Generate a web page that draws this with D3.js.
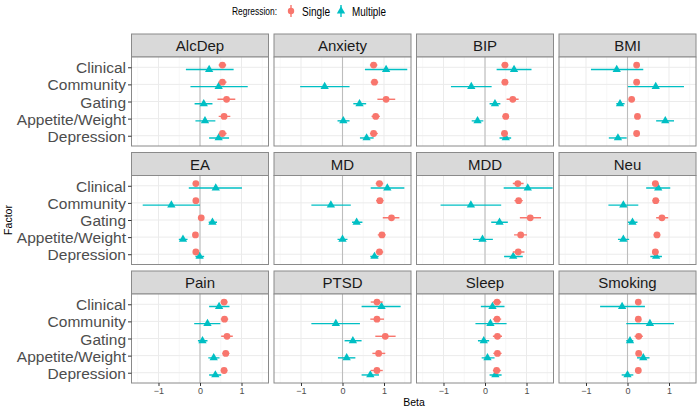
<!DOCTYPE html>
<html><head><meta charset="utf-8">
<script src="https://cdn.jsdelivr.net/npm/d3@7"></script>
<style>body{margin:0;background:#fff}svg{display:block;font-family:"Liberation Sans",Arial,sans-serif}</style>
</head><body><svg id="c" width="700" height="409"></svg>
<script>
const traits = ["AlcDep","Anxiety","BIP","BMI","EA","MD","MDD","Neu","Pain","PTSD","Sleep","Smoking"];
const factors = ["Clinical","Community","Gating","Appetite/Weight","Depression"];
const xTicks = [-1,0,1];
const xMinor = [-1.5,-0.5,0.5,1.5];
// [beta, lower, upper] per factor, per trait
const singleVals = [
 [[0.54,0.45,0.63],[0.54,0.44,0.64],[0.64,0.42,0.85],[0.58,0.45,0.73],[0.54,0.45,0.64]],
 [[0.75,0.66,0.84],[0.77,0.68,0.86],[1.05,0.84,1.27],[0.80,0.70,0.90],[0.75,0.66,0.85]],
 [[0.48,0.40,0.56],[0.48,0.40,0.56],[0.67,0.52,0.81],[0.50,0.42,0.58],[0.47,0.39,0.55]],
 [[0.22,0.16,0.28],[0.22,0.16,0.28],[0.10,0.04,0.16],[0.24,0.18,0.30],[0.22,0.16,0.28]],
 [[-0.10,-0.16,-0.04],[-0.10,-0.16,-0.04],[0.03,-0.03,0.09],[-0.11,-0.17,-0.05],[-0.10,-0.16,-0.04]],
 [[0.89,0.80,0.98],[0.90,0.81,0.99],[1.18,0.97,1.37],[0.95,0.85,1.04],[0.89,0.80,0.98]],
 [[0.79,0.67,0.93],[0.81,0.71,0.91],[1.09,0.84,1.35],[0.86,0.70,1.01],[0.80,0.67,0.95]],
 [[0.67,0.59,0.75],[0.68,0.60,0.77],[0.83,0.69,0.98],[0.71,0.63,0.79],[0.67,0.59,0.75]],
 [[0.58,0.50,0.66],[0.59,0.50,0.68],[0.65,0.51,0.79],[0.62,0.54,0.71],[0.58,0.50,0.66]],
 [[0.83,0.68,0.97],[0.83,0.67,1.00],[1.03,0.79,1.28],[0.87,0.72,1.03],[0.83,0.68,0.97]],
 [[0.29,0.19,0.39],[0.29,0.19,0.39],[0.30,0.19,0.41],[0.30,0.20,0.40],[0.28,0.19,0.38]],
 [[0.26,0.20,0.32],[0.26,0.20,0.32],[0.27,0.17,0.37],[0.27,0.20,0.34],[0.26,0.20,0.32]]
];
const multipleVals = [
 [[0.22,-0.34,0.81],[0.45,-0.23,1.15],[0.09,-0.13,0.30],[0.12,-0.11,0.37],[0.45,0.22,0.70]],
 [[1.05,0.54,1.56],[-0.43,-1.02,0.17],[0.41,0.26,0.57],[0.02,-0.12,0.17],[0.58,0.42,0.75]],
 [[0.70,0.28,1.12],[-0.33,-0.82,0.16],[0.24,0.11,0.37],[-0.18,-0.32,-0.04],[0.50,0.35,0.63]],
 [[-0.26,-0.88,0.38],[0.68,0.01,1.36],[-0.18,-0.27,-0.07],[0.91,0.69,1.12],[-0.23,-0.45,-0.02]],
 [[0.38,-0.27,1.01],[-0.69,-1.38,0.00],[0.30,0.21,0.41],[-0.41,-0.51,-0.30],[-0.01,-0.11,0.10]],
 [[1.08,0.68,1.49],[-0.28,-0.75,0.20],[0.34,0.23,0.48],[0.00,-0.12,0.12],[0.77,0.67,0.87]],
 [[1.03,0.45,1.63],[-0.34,-1.07,0.39],[0.35,0.15,0.55],[-0.06,-0.29,0.19],[0.68,0.46,0.91]],
 [[0.74,0.45,1.03],[-0.10,-0.46,0.26],[0.12,0.01,0.24],[-0.10,-0.23,0.04],[0.69,0.55,0.83]],
 [[0.46,0.22,0.71],[0.18,-0.14,0.49],[0.06,-0.05,0.18],[0.33,0.20,0.47],[0.37,0.22,0.51]],
 [[0.94,0.46,1.40],[-0.16,-0.75,0.42],[0.25,0.05,0.46],[0.10,-0.11,0.31],[0.67,0.46,0.88]],
 [[0.18,-0.10,0.47],[0.13,-0.23,0.52],[-0.03,-0.17,0.10],[0.06,-0.08,0.23],[0.25,0.11,0.40]],
 [[-0.13,-0.66,0.42],[0.54,-0.03,1.12],[0.06,-0.03,0.14],[0.38,0.23,0.53],[0.00,-0.14,0.14]]
];
const seriesNames = ["Single","Multiple"];
const seriesColors = ["#F8766D","#00BFC4"];

const svg = d3.select("#c");
const colLeft = 131.5, panelW = 137, gapX = 5.5;
const rowTop = 34, stripH = 23, panelH = 89, gapY = 6.5;
const x = d3.scaleLinear().domain([-1.65,1.65]);
const y = d3.scalePoint().domain(factors).range([0,panelH]).padding(0.6);
const dodge = y.step()*0.13;
const gray30 = "#4D4D4D";

svg.append("defs").append("clipPath").attr("id","pclip")
  .append("rect").attr("x",0).attr("y",0).attr("width",panelW).attr("height",panelH);

const tri = d3.symbol().type(d3.symbolTriangle).size(30);

traits.forEach((t,i)=>{
  const c = i%4, r = Math.floor(i/4);
  const px = colLeft + c*(panelW+gapX);
  const sy = rowTop + r*(stripH+panelH+gapY);
  const py = sy + stripH;
  x.range([0,panelW]);
  // strip
  svg.append("rect").attr("x",px).attr("y",sy).attr("width",panelW).attr("height",stripH)
    .attr("fill","#D9D9D9").attr("stroke","#8a8a8a").attr("stroke-width",1);
  svg.append("text").attr("x",px+panelW/2).attr("y",sy+stripH/2+5.5).attr("text-anchor","middle")
    .attr("font-size",15).attr("fill","#1A1A1A").text(t);
  const g = svg.append("g").attr("transform",`translate(${px},${py})`);
  g.append("rect").attr("width",panelW).attr("height",panelH).attr("fill","#fff");
  const inner = g.append("g").attr("clip-path","url(#pclip)");
  inner.selectAll(".mn").data(xMinor).join("line")
    .attr("x1",d=>x(d)).attr("x2",d=>x(d)).attr("y1",0).attr("y2",panelH)
    .attr("stroke","#F2F2F2").attr("stroke-width",0.6);
  inner.selectAll(".mj").data(xTicks).join("line")
    .attr("x1",d=>x(d)).attr("x2",d=>x(d)).attr("y1",0).attr("y2",panelH)
    .attr("stroke","#EBEBEB").attr("stroke-width",1);
  inner.selectAll(".hy").data(factors).join("line")
    .attr("x1",0).attr("x2",panelW).attr("y1",d=>y(d)).attr("y2",d=>y(d))
    .attr("stroke","#EBEBEB").attr("stroke-width",1);
  inner.append("line").attr("x1",x(0)).attr("x2",x(0)).attr("y1",0).attr("y2",panelH)
    .attr("stroke","#BDBDBD").attr("stroke-width",1.1);
  // series: draw Multiple, then Single
  [1,0].forEach(s=>{
    const vals = (s===0?singleVals:multipleVals)[i];
    const off = s===0 ? -dodge : dodge;
    const col = seriesColors[s];
    const rows = factors.map((f,k)=>({f, b:vals[k][0], lo:vals[k][1], hi:vals[k][2]}));
    inner.selectAll(".eb"+s).data(rows).join("line")
      .attr("x1",d=>x(d.lo)).attr("x2",d=>x(d.hi))
      .attr("y1",d=>y(d.f)+off).attr("y2",d=>y(d.f)+off)
      .attr("stroke",col).attr("stroke-width",1.4);
    if(s===0){
      inner.selectAll(".pt"+s).data(rows).join("circle")
        .attr("cx",d=>x(d.b)).attr("cy",d=>y(d.f)+off).attr("r",3.4).attr("fill",col);
    } else {
      inner.selectAll(".pt"+s).data(rows).join("path")
        .attr("d",tri).attr("transform",d=>`translate(${x(d.b)},${y(d.f)+off})`).attr("fill",col);
    }
  });
  g.append("rect").attr("width",panelW).attr("height",panelH).attr("fill","none")
    .attr("stroke","#8a8a8a").attr("stroke-width",1);
  // y axis on first column
  if(c===0){
    const ya = g.append("g").call(d3.axisLeft(y).tickSize(3.5).tickPadding(2));
    ya.select(".domain").remove();
    ya.selectAll(".tick line").attr("stroke","#333");
    ya.selectAll(".tick text").attr("font-size",15.5).attr("fill",gray30).attr("font-family","Liberation Sans, Arial, sans-serif").attr("dy","0.36em");
  }
  if(r===2){
    const xa = g.append("g").attr("transform",`translate(0,${panelH})`)
      .call(d3.axisBottom(x).tickValues(xTicks).tickFormat(d3.format("d")).tickSize(3).tickPadding(2));
    xa.select(".domain").remove();
    xa.selectAll(".tick line").attr("stroke","#333");
    xa.selectAll(".tick text").attr("font-size",9).attr("fill",gray30).attr("font-family","Liberation Sans, Arial, sans-serif");
  }
});

// axis titles
svg.append("text").attr("x",414).attr("y",406).attr("text-anchor","middle").attr("font-size",10.5).attr("fill","#000").text("Beta");
svg.append("text").attr("transform","translate(12,220) rotate(-90)").attr("text-anchor","middle").attr("font-size",10.5).attr("fill","#000").text("Factor");

// legend
const lg = svg.append("g");
lg.append("text").attr("x",232).attr("y",15).attr("font-size",10.5).attr("textLength",45).attr("lengthAdjust","spacingAndGlyphs").text("Regression:");
const legX = [291,341], legTX = [302,352], legTW = [28,34];
seriesNames.forEach((n,s)=>{
  lg.append("line").attr("x1",legX[s]).attr("x2",legX[s]).attr("y1",5).attr("y2",17)
    .attr("stroke",seriesColors[s]).attr("stroke-width",1.4);
  if(s===0) lg.append("circle").attr("cx",legX[s]).attr("cy",11).attr("r",3.2).attr("fill",seriesColors[s]);
  else lg.append("path").attr("d",tri).attr("transform",`translate(${legX[s]},11)`).attr("fill",seriesColors[s]);
  lg.append("text").attr("x",legTX[s]).attr("y",16).attr("font-size",13.5).attr("textLength",legTW[s]).attr("lengthAdjust","spacingAndGlyphs").text(n);
});
</script></body></html>
